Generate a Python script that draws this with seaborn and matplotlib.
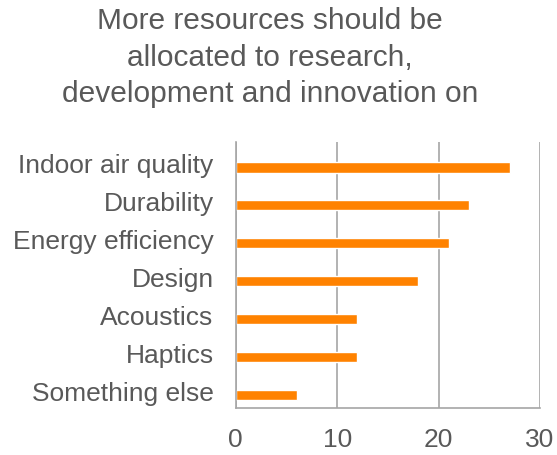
import matplotlib
matplotlib.use("Agg")
import matplotlib.pyplot as plt
import seaborn as sns
import pandas as pd

categories = ["Indoor air quality", "Durability", "Energy efficiency", "Design",
              "Acoustics", "Haptics", "Something else"]
values = [27, 23, 21, 18, 12, 12, 6]
x_ticks = [0, 10, 20, 30]
title = "More resources should be\nallocated to research,\ndevelopment and innovation on"

sns.set_theme(style="white")
plt.rcParams["font.family"] = ["Liberation Sans", "DejaVu Sans"]

text_color = "#595959"
grid_color = "#A6A6A6"
bar_color = "#FF8200"

df = pd.DataFrame({"category": categories, "value": values})

fig = plt.figure(figsize=(5.57, 4.56), dpi=100)
ax = fig.add_axes([0.4232, 0.1031, 0.5463, 0.5833])

sns.barplot(data=df, y="category", x="value", orient="h", color=bar_color,
            width=0.27, saturation=1, ax=ax)

ax.set_xlim(0, 30)
ax.set_ylim(6.34, -0.67)
ax.set_xticks(x_ticks)
ax.set_xticklabels([str(t) for t in x_ticks])
# category labels sit slightly above the bar centres
ax.set_yticks([i - 0.13 for i in range(len(categories))])
ax.set_yticklabels(categories)
ax.set_xlabel("")
ax.set_ylabel("")

ax.xaxis.grid(True, color=grid_color, linewidth=1.2)
ax.set_axisbelow(True)
for side in ["top", "right"]:
    ax.spines[side].set_visible(False)
for side in ["left", "bottom"]:
    ax.spines[side].set_color(grid_color)
    ax.spines[side].set_linewidth(1.2)

ax.tick_params(axis="y", length=0, pad=16, labelsize=19, labelcolor=text_color)
ax.tick_params(axis="x", length=0, pad=14, labelsize=19, labelcolor=text_color)

fig.text(0.485, 0.985, title, ha="center", va="top", fontsize=21.5,
         color=text_color, linespacing=1.4)

fig.savefig("out.png", dpi=100)
